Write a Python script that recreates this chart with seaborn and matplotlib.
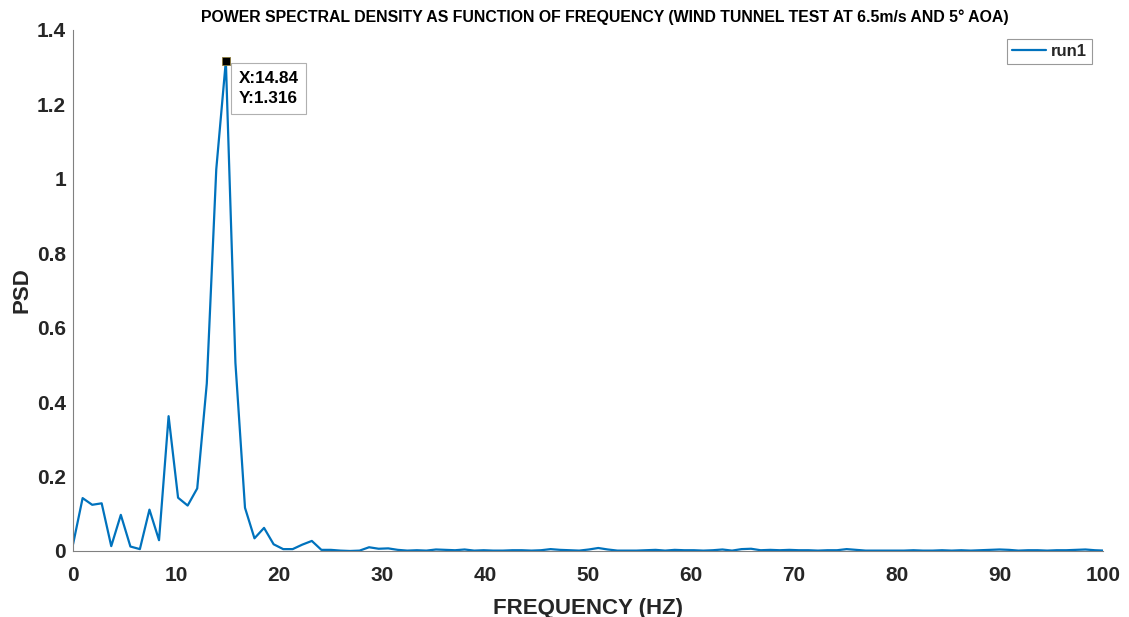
import matplotlib
matplotlib.use("Agg")
import matplotlib.pyplot as plt
import matplotlib.ticker as mticker
import seaborn as sns
import pandas as pd

# ---- data ----
freq = [0.00, 0.93, 1.86, 2.78, 3.71, 4.64, 5.57, 6.49, 7.42, 8.35,
        9.28, 10.20, 11.13, 12.06, 12.99, 13.91, 14.84, 15.77, 16.70, 17.62,
        18.55, 19.48, 20.41, 21.33, 22.26, 23.19, 24.12, 25.04, 25.97, 26.90,
        27.83, 28.75, 29.68, 30.61, 31.54, 32.46, 33.39, 34.32, 35.25, 36.17,
        37.10, 38.03, 38.96, 39.88, 40.81, 41.74, 42.67, 43.59, 44.52, 45.45,
        46.38, 47.30, 48.23, 49.16, 50.09, 51.01, 51.94, 52.87, 53.80, 54.72,
        55.65, 56.58, 57.51, 58.43, 59.36, 60.29, 61.22, 62.14, 63.07, 64.00,
        64.93, 65.85, 66.78, 67.71, 68.64, 69.56, 70.49, 71.42, 72.35, 73.27,
        74.20, 75.13, 76.06, 76.98, 77.91, 78.84, 79.77, 80.69, 81.62, 82.55,
        83.48, 84.40, 85.33, 86.26, 87.19, 88.11, 89.04, 89.97, 90.90, 91.82,
        92.75, 93.68, 94.61, 95.53, 96.46, 97.39, 98.32, 99.24, 100.17]
psd = [0.018, 0.142, 0.124, 0.128, 0.013, 0.097, 0.012, 0.005, 0.111, 0.029,
       0.362, 0.143, 0.122, 0.168, 0.450, 1.025, 1.316, 0.505, 0.116, 0.034,
       0.062, 0.018, 0.005, 0.005, 0.017, 0.027, 0.003, 0.003, 0.001, 0.000,
       0.001, 0.010, 0.006, 0.007, 0.003, 0.001, 0.002, 0.001, 0.004, 0.003,
       0.002, 0.004, 0.001, 0.002, 0.001, 0.001, 0.002, 0.002, 0.001, 0.002,
       0.005, 0.003, 0.002, 0.001, 0.004, 0.008, 0.004, 0.001, 0.001, 0.001,
       0.002, 0.003, 0.001, 0.003, 0.002, 0.002, 0.001, 0.002, 0.004, 0.001,
       0.005, 0.006, 0.002, 0.003, 0.002, 0.003, 0.002, 0.002, 0.001, 0.002,
       0.002, 0.005, 0.003, 0.001, 0.001, 0.001, 0.001, 0.001, 0.002, 0.001,
       0.001, 0.002, 0.001, 0.002, 0.001, 0.002, 0.003, 0.004, 0.003, 0.001,
       0.002, 0.002, 0.001, 0.002, 0.002, 0.003, 0.004, 0.002, 0.001]
series_name = "run1"
peak_x = 14.84
peak_y = 1.316

x_ticks = [0, 10, 20, 30, 40, 50, 60, 70, 80, 90, 100]
y_ticks = [0, 0.2, 0.4, 0.6, 0.8, 1.0, 1.2, 1.4]

title = "POWER SPECTRAL DENSITY AS FUNCTION OF FREQUENCY (WIND TUNNEL TEST AT 6.5m/s AND 5° AOA)"
xlabel = "FREQUENCY (HZ)"
ylabel = "PSD"

# ---- style ----
sns.set_theme(style="white")
plt.rcParams["font.family"] = ["Liberation Sans", "DejaVu Sans"]

LINE_COLOR = "#0072BD"
TEXT_COLOR = "#262626"
AXIS_COLOR = "#808080"

df = pd.DataFrame({"freq": freq, "psd": psd, "series": series_name})

fig = plt.figure(figsize=(11.29, 6.17), dpi=100)
ax = fig.add_axes([0.0647, 0.107, 0.912, 0.845])

sns.lineplot(data=df, x="freq", y="psd", hue="series", palette=[LINE_COLOR],
             linewidth=1.6, ax=ax)

ax.set_xlim(0, 100)
ax.set_ylim(0, 1.4)
ax.set_xticks(x_ticks)
ax.set_yticks(y_ticks)
ax.yaxis.set_major_formatter(mticker.FormatStrFormatter("%g"))

for lab in ax.get_xticklabels() + ax.get_yticklabels():
    lab.set_fontweight("bold")
ax.tick_params(axis="both", direction="in", length=5, width=0.8,
               colors=AXIS_COLOR, labelcolor=TEXT_COLOR, labelsize=15)
ax.tick_params(axis="x", pad=11)
ax.tick_params(axis="y", pad=5)

for s in ["top", "right"]:
    ax.spines[s].set_visible(False)
for s in ["left", "bottom"]:
    ax.spines[s].set_color(AXIS_COLOR)
    ax.spines[s].set_linewidth(0.8)

ax.set_xlabel(xlabel, fontsize=16, fontweight="bold", color=TEXT_COLOR, labelpad=9)
ax.set_ylabel(ylabel, fontsize=16, fontweight="bold", color=TEXT_COLOR, labelpad=3)

fig.text(0.536, 0.972, title, ha="center", va="center", fontsize=11.4,
         fontweight="bold", color="black",
         family=["Liberation Sans Narrow", "Liberation Sans", "DejaVu Sans"])

# data tip
ax.plot([peak_x], [peak_y], marker="s", markersize=6, color="black",
        markeredgecolor="#8a7a3a", markeredgewidth=0.6, clip_on=False, zorder=5)
ax.annotate(f"X:{peak_x:g}\nY:{peak_y:g}", xy=(peak_x, peak_y), xytext=(9, -7),
            textcoords="offset points", ha="left", va="top", fontsize=12.3,
            fontweight="bold", color="black", linespacing=1.45,
            bbox=dict(boxstyle="square,pad=0.45", facecolor="white",
                      edgecolor="#b0b0b0", linewidth=0.8))

leg = ax.legend(loc="upper right", bbox_to_anchor=(0.994, 0.992), frameon=True,
                fancybox=False, fontsize=12, handlelength=2.0, handletextpad=0.3,
                borderpad=0.3, borderaxespad=0.3, title=None)
leg.get_frame().set_edgecolor("#808080")
leg.get_frame().set_linewidth(0.8)
for t in leg.get_texts():
    t.set_fontweight("bold")
    t.set_color(TEXT_COLOR)

fig.savefig("out.png", dpi=100)
